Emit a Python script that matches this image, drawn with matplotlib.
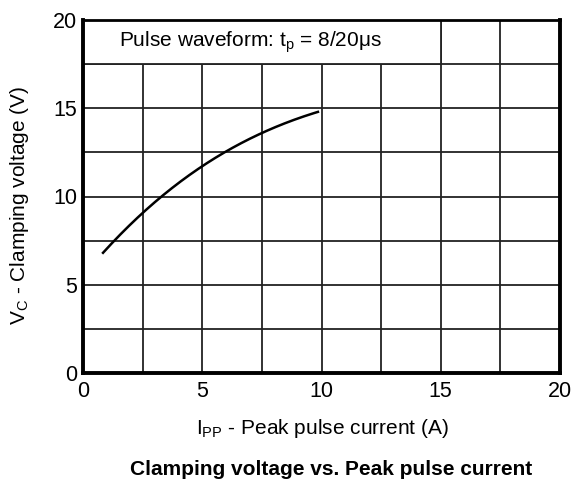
import matplotlib
matplotlib.use("Agg")
from matplotlib import pyplot as plt
from matplotlib.patches import Rectangle
import numpy as np

plt.rcParams['font.family'] = ['Liberation Sans', 'DejaVu Sans']
plt.rcParams['mathtext.fontset'] = 'custom'
plt.rcParams['mathtext.rm'] = 'Liberation Sans'
plt.rcParams['mathtext.it'] = 'Liberation Sans'

# curve
ipp = [0.84, 1.26, 2.5, 3.35, 5.0, 5.87, 7.5, 9.85]
vc = [6.74, 7.5, 9.12, 10.0, 11.67, 12.5, 13.6, 14.79]

ticks = [0, 5, 10, 15, 20]

fig = plt.figure(figsize=(5.81, 4.82), dpi=100)
ax = fig.add_axes([83/581, 1 - 373/482, 477/581, 353/482])

# smooth the read points a bit
xs = np.linspace(ipp[0], ipp[-1], 200)
coef = np.polyfit(ipp, vc, 3)
ax.plot(xs, np.polyval(coef, xs), color='black', lw=1.8, zorder=4)

ax.set_xlim(0, 20)
ax.set_ylim(0, 20)
ax.set_xticks(ticks)
ax.set_yticks(ticks)
ax.set_xticks(np.arange(0, 20.1, 2.5), minor=True)
ax.set_yticks(np.arange(0, 20.1, 2.5), minor=True)
ax.grid(which='both', color='#222222', lw=1.3, zorder=1)
ax.tick_params(which='both', length=0, labelsize=15.5)
ax.tick_params(axis='x', pad=6)
ax.tick_params(axis='y', pad=4)
ax.set_axisbelow(True)

for side in ['left', 'bottom', 'right']:
    ax.spines[side].set_linewidth(2.8)
ax.spines['top'].set_linewidth(2.0)

# label box in the top-left cells
ax.add_patch(Rectangle((0, 17.5), 15, 2.5, facecolor='white', edgecolor='#222222',
                       lw=1.3, zorder=2))
ax.text(1.5, 18.75, r'Pulse waveform: t$_\mathrm{p}$ = 8/20$\mu$s', fontsize=15,
        va='center', ha='left', zorder=3)

fig.text(322/581, 1 - 434/482, r'I$_\mathrm{PP}$ - Peak pulse current (A)',
         fontsize=15, ha='center', va='baseline')
fig.text(20/581, 1 - 205/482, r'V$_\mathrm{C}$ - Clamping voltage (V)',
         fontsize=15, ha='center', va='center', rotation=90)

fig.text(331/581, 1 - 475/482, 'Clamping voltage vs. Peak pulse current',
         fontsize=15, fontweight='bold', ha='center', va='baseline')

fig.savefig('out.png', dpi=100)
